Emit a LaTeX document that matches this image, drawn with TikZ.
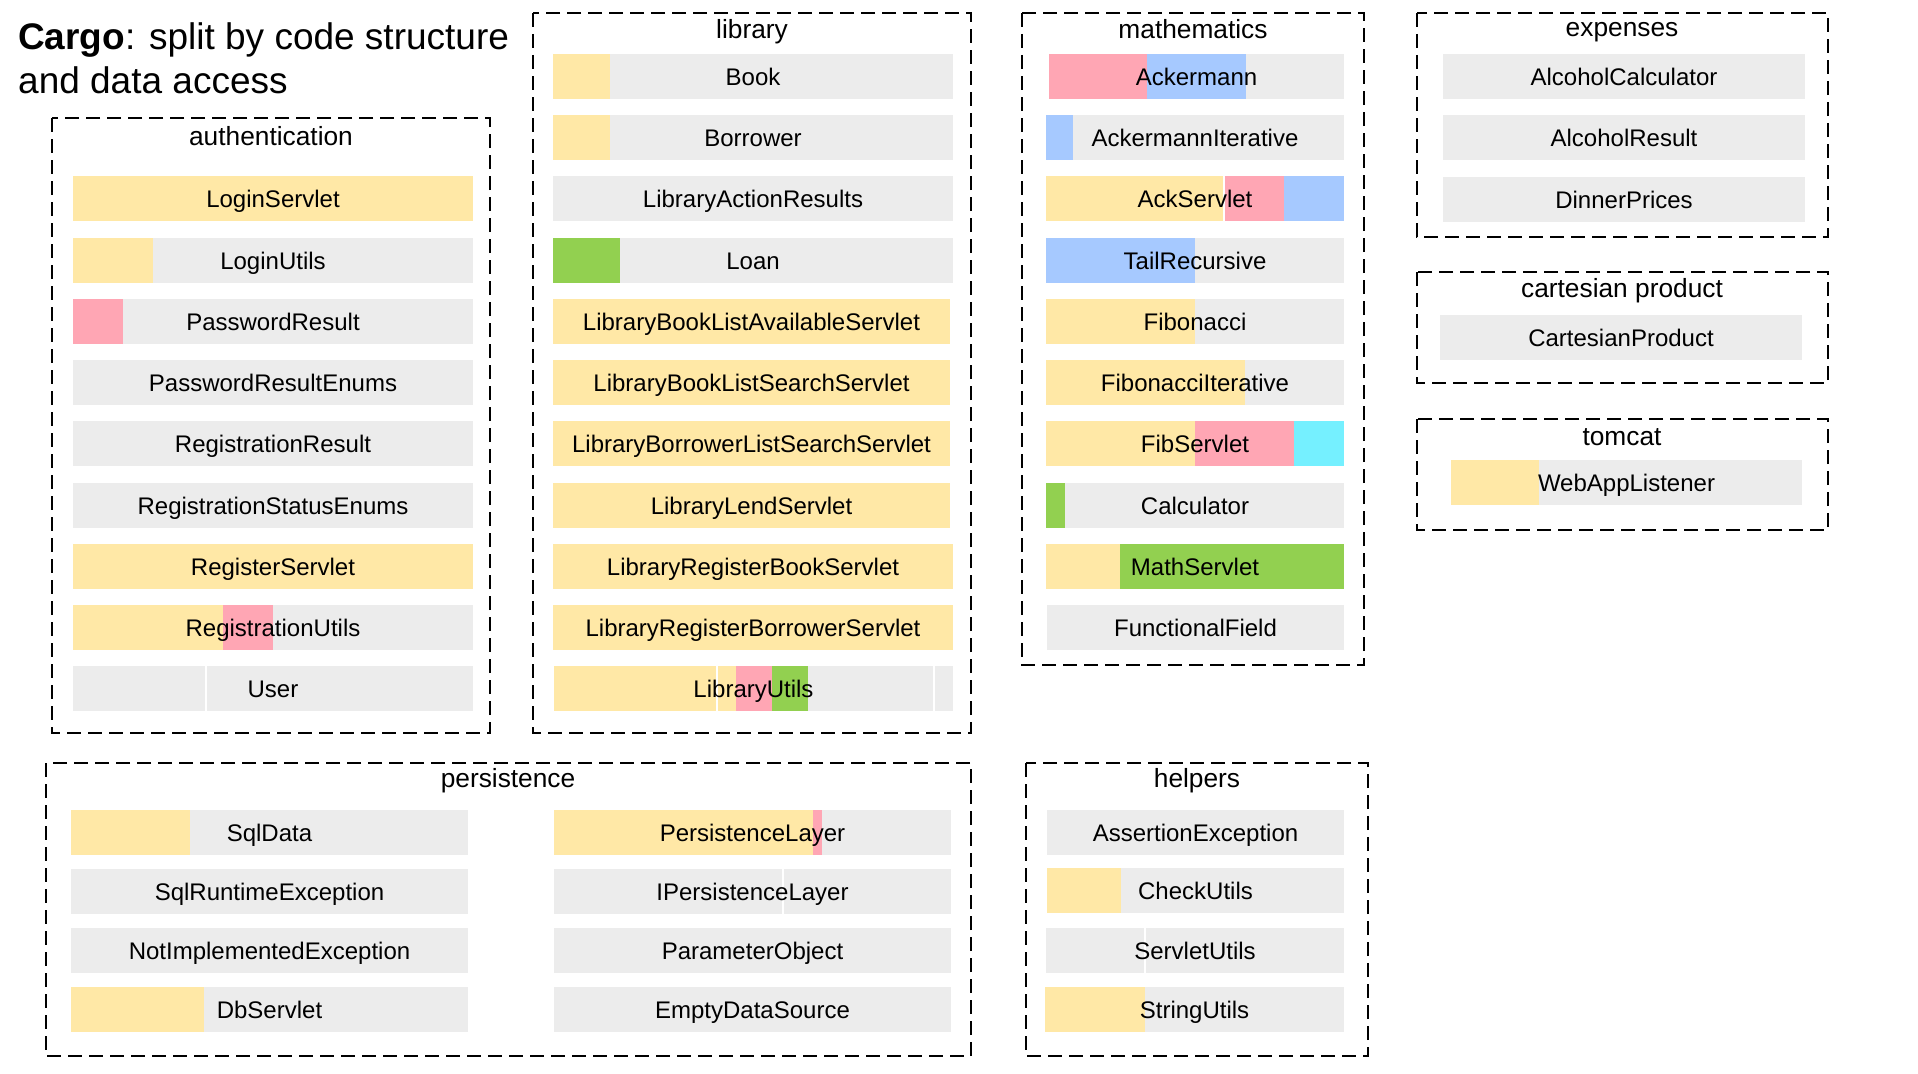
\documentclass[tikz,border=0pt]{standalone}
\usepackage{fontspec}
\setmainfont{Liberation Sans}
\definecolor{cy}{RGB}{255,232,166}
\definecolor{cp}{RGB}{255,166,180}
\definecolor{cb}{RGB}{166,201,255}
\definecolor{cg}{RGB}{146,208,80}
\definecolor{cc}{RGB}{117,240,255}
\definecolor{gbg}{RGB}{236,236,236}
\tikzset{
  grp/.style={draw=black, line width=2.5pt, dash pattern=on 14pt off 7pt},
  cls/.style={font=\fontsize{24}{28}\selectfont, inner sep=0pt, text height=17.2pt, text depth=0pt, anchor=center},
  grplbl/.style={font=\fontsize{26.3}{30}\selectfont, anchor=base, inner sep=0pt},
  ttl/.style={font=\fontsize{37}{43}\selectfont, anchor=base west, inner sep=0pt},
  sepl/.style={draw=white, line width=1.3pt},
}
\def\bhgt{45}
% segment: x1, x2, ytop, colour
\newcommand\seg[4]{\fill[#4] (#1,#3) rectangle (#2,{#3+\bhgt});}
% class name: node name, x1, x2, ytop, text
\newcommand\cname[5]{\node[cls] (#1) at ({(#2+#3)/2},{#4+\bhgt/2}) {#5};}
% separator: x, ytop
\newcommand\sepline[2]{\draw[sepl] (#1,#2) -- (#1,{#2+\bhgt});}
\begin{document}
\begin{tikzpicture}[x=1pt,y=-1pt]
\useasboundingbox (0,0) rectangle (1918,1073);
\fill[white] (0,0) rectangle (1918,1073);

% title
\node[ttl] (title1) at (18,50) {\textbf{Cargo}: split by code structure};
\node[ttl] (title2) at (18,93) {and data access};

% ---------------- group boxes ----------------
\draw[grp] (52,118) rectangle (490,733);
\draw[grp] (533,13) rectangle (971,733);
\draw[grp] (1022,13) rectangle (1364,665);
\draw[grp] (1417,13) rectangle (1828,237);
\draw[grp] (1417,272) rectangle (1828,383);
\draw[grp] (1417,419) rectangle (1828,530);
\draw[grp] (46,763) rectangle (971,1056);
\draw[grp] (1026,763) rectangle (1368,1056);

\node[grplbl] (gauth) at (271,145) {authentication};
\node[grplbl] (glib) at (752,38) {library};
\node[grplbl] (gmath) at (1193,38) {mathematics};
\node[grplbl] (gexp) at (1622,37) {expenses};
\node[grplbl] (gcart) at (1622,297) {cartesian product};
\node[grplbl] (gtom) at (1622,445) {tomcat};
\node[grplbl] (gpers) at (508,787) {persistence};
\node[grplbl] (ghelp) at (1197,787) {helpers};

% ---------------- authentication ----------------
\seg{73}{473}{176}{cy} \cname{loginservlet}{73}{473}{176}{LoginServlet}
\seg{73}{153}{238}{cy} \seg{153}{473}{238}{gbg} \cname{loginutils}{73}{473}{238}{LoginUtils}
\seg{73}{123}{299}{cp} \seg{123}{473}{299}{gbg} \cname{passwordresult}{73}{473}{299}{PasswordResult}
\seg{73}{473}{360}{gbg} \cname{passwordresultenums}{73}{473}{360}{PasswordResultEnums}
\seg{73}{473}{421}{gbg} \cname{registrationresult}{73}{473}{421}{RegistrationResult}
\seg{73}{473}{483}{gbg} \cname{registrationstatusenums}{73}{473}{483}{RegistrationStatusEnums}
\seg{73}{473}{544}{cy} \cname{registerservlet}{73}{473}{544}{RegisterServlet}
\seg{73}{223}{605}{cy} \seg{223}{273}{605}{cp} \seg{273}{473}{605}{gbg} \cname{registrationutils}{73}{473}{605}{RegistrationUtils}
\seg{73}{473}{666}{gbg} \sepline{206}{666} \cname{user}{73}{473}{666}{User}

% ---------------- library ----------------
\seg{553}{610}{54}{cy} \seg{610}{953}{54}{gbg} \cname{book}{553}{953}{54}{Book}
\seg{553}{610}{115}{cy} \seg{610}{953}{115}{gbg} \cname{borrower}{553}{953}{115}{Borrower}
\seg{553}{953}{176}{gbg} \cname{libactres}{553}{953}{176}{LibraryActionResults}
\seg{553}{620}{238}{cg} \seg{620}{953}{238}{gbg} \cname{loan}{553}{953}{238}{Loan}
\seg{553}{950}{299}{cy} \cname{lblas}{553}{950}{299}{LibraryBookListAvailableServlet}
\seg{553}{950}{360}{cy} \cname{lblss}{553}{950}{360}{LibraryBookListSearchServlet}
\seg{553}{950}{421}{cy} \cname{lbrlss}{553}{950}{421}{LibraryBorrowerListSearchServlet}
\seg{553}{950}{483}{cy} \cname{llends}{553}{950}{483}{LibraryLendServlet}
\seg{553}{953}{544}{cy} \cname{lrbooks}{553}{953}{544}{LibraryRegisterBookServlet}
\seg{553}{953}{605}{cy} \cname{lrborrs}{553}{953}{605}{LibraryRegisterBorrowerServlet}
\seg{554}{736}{666}{cy} \seg{736}{772}{666}{cp} \seg{772}{808}{666}{cg} \seg{808}{953}{666}{gbg}
\sepline{717}{666} \sepline{934}{666}
\cname{libutils}{554}{953}{666}{LibraryUtils}

% ---------------- mathematics ----------------
\seg{1049}{1147}{54}{cp} \seg{1147}{1246}{54}{cb} \seg{1246}{1344}{54}{gbg} \cname{ackermann}{1049}{1344}{54}{Ackermann}
\seg{1046}{1073}{115}{cb} \seg{1073}{1344}{115}{gbg} \cname{ackit}{1046}{1344}{115}{AckermannIterative}
\seg{1046}{1224}{176}{cy} \seg{1224}{1284}{176}{cp} \seg{1284}{1344}{176}{cb} \sepline{1224}{176} \cname{ackservlet}{1046}{1344}{176}{AckServlet}
\seg{1046}{1195}{238}{cb} \seg{1195}{1344}{238}{gbg} \cname{tailrec}{1046}{1344}{238}{TailRecursive}
\seg{1046}{1195}{299}{cy} \seg{1195}{1344}{299}{gbg} \cname{fib}{1046}{1344}{299}{Fibonacci}
\seg{1046}{1245}{360}{cy} \seg{1245}{1344}{360}{gbg} \cname{fibit}{1046}{1344}{360}{FibonacciIterative}
\seg{1046}{1195}{421}{cy} \seg{1195}{1294}{421}{cp} \seg{1294}{1344}{421}{cc} \cname{fibservlet}{1046}{1344}{421}{FibServlet}
\seg{1046}{1065}{483}{cg} \seg{1065}{1344}{483}{gbg} \cname{calc}{1046}{1344}{483}{Calculator}
\seg{1046}{1120}{544}{cy} \seg{1120}{1344}{544}{cg} \cname{mathservlet}{1046}{1344}{544}{MathServlet}
\seg{1047}{1344}{605}{gbg} \cname{funcfield}{1047}{1344}{605}{FunctionalField}

% ---------------- persistence / helpers ----------------
\seg{71}{190}{810}{cy} \seg{190}{468}{810}{gbg} \cname{sqldata}{71}{468}{810}{SqlData}
\seg{71}{468}{869}{gbg} \cname{sqlrt}{71}{468}{869}{SqlRuntimeException}
\seg{71}{468}{928}{gbg} \cname{notimpl}{71}{468}{928}{NotImplementedException}
\seg{71}{204}{987}{cy} \seg{204}{468}{987}{gbg} \cname{dbservlet}{71}{468}{987}{DbServlet}

\seg{554}{813}{810}{cy} \seg{813}{822}{810}{cp} \seg{822}{951}{810}{gbg} \cname{perslayer}{554}{951}{810}{PersistenceLayer}
\seg{554}{951}{869}{gbg} \sepline{783}{869} \cname{ipers}{554}{951}{869}{IPersistenceLayer}
\seg{554}{951}{928}{gbg} \cname{paramobj}{554}{951}{928}{ParameterObject}
\seg{554}{951}{987}{gbg} \cname{emptyds}{554}{951}{987}{EmptyDataSource}

\seg{1047}{1344}{810}{gbg} \cname{assertex}{1047}{1344}{810}{AssertionException}
\seg{1047}{1121}{868}{cy} \seg{1121}{1344}{868}{gbg} \cname{checkutils}{1047}{1344}{868}{CheckUtils}
\seg{1046}{1344}{928}{gbg} \sepline{1145}{928} \cname{servletutils}{1046}{1344}{928}{ServletUtils}
\seg{1045}{1145}{987}{cy} \seg{1145}{1344}{987}{gbg} \cname{stringutils}{1045}{1344}{987}{StringUtils}

% ---------------- expenses / cartesian / tomcat ----------------
\seg{1443}{1805}{54}{gbg} \cname{alccalc}{1443}{1805}{54}{AlcoholCalculator}
\seg{1443}{1805}{115}{gbg} \cname{alcres}{1443}{1805}{115}{AlcoholResult}
\seg{1443}{1805}{177}{gbg} \cname{dinner}{1443}{1805}{177}{DinnerPrices}
\seg{1440}{1802}{315}{gbg} \cname{cartprod}{1440}{1802}{315}{CartesianProduct}
\seg{1451}{1539}{460}{cy} \seg{1539}{1802}{460}{gbg} \cname{webapp}{1451}{1802}{460}{WebAppListener}
\end{tikzpicture}
\end{document}
